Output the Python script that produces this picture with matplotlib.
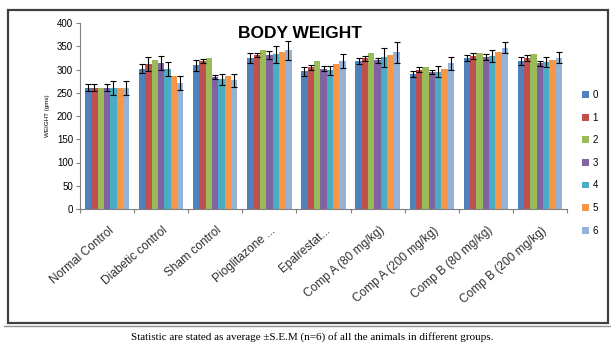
import numpy as np
import matplotlib
matplotlib.use("Agg")
import matplotlib.pyplot as plt
from matplotlib.patches import Rectangle, Patch

# ── data ────────────────────────────────────────────────────────────────────
groups = ["Normal Control", "Diabetic control", "Sham control", "Pioglitazone ...",
          "Epalrestat...", "Comp A (80 mg/kg)", "Comp A (200 mg/kg)",
          "Comp B (80 mg/kg)", "Comp B (200 mg/kg)"]
series_names = ["0", "1", "2", "3", "4", "5", "6"]

# rows = series (weeks 0..6), columns = groups
means = np.array([
    [261, 302, 309, 325, 296, 318, 290, 325, 318],
    [261, 311, 318, 331, 305, 324, 300, 329, 325],
    [261, 320, 325, 341, 318, 336, 306, 336, 333],
    [261, 314, 284, 331, 302, 320, 295, 327, 313],
    [261, 302, 279, 333, 298, 326, 295, 329, 316],
    [261, 285, 285, 338, 311, 331, 302, 338, 320],
    [261, 271, 277, 341, 318, 337, 313, 347, 325],
])
sems = np.array([
    [8, 10, 12, 10, 10, 6, 6, 6, 8],
    [8, 15, 5, 5, 5, 5, 5, 6, 6],
    [0, 0, 0, 0, 0, 0, 0, 0, 0],
    [8, 15, 5, 8, 5, 5, 5, 6, 6],
    [15, 15, 12, 18, 10, 20, 12, 12, 10],
    [0, 0, 0, 0, 0, 0, 0, 0, 0],
    [15, 15, 14, 20, 15, 22, 14, 12, 12],
])

colors = ["#4F81BD", "#C0504D", "#9BBB59", "#8064A2", "#4BACC6", "#F79646", "#95B3D7"]
sans = "Liberation Sans"

fig = plt.figure(figsize=(6.11, 3.47), dpi=100)
fig.patch.set_facecolor("white")

# outer chart frame + caption
fig.patches.append(Rectangle((8 / 611, 1 - 323 / 347), 600 / 611, 313 / 347,
                             transform=fig.transFigure, fill=False,
                             edgecolor="#404040", lw=1.6))
fig.lines.append(plt.Line2D([4 / 611, 611 / 611], [1 - 326 / 347] * 2,
                            transform=fig.transFigure, color="#909090", lw=1))

ax = fig.add_axes([80 / 611, 1 - 209 / 347, 487 / 611, 186 / 347])

n_ser = len(series_names)
x = np.arange(len(groups))
bw = 0.82 / n_ser
for i, name in enumerate(series_names):
    pos = x - 0.41 + bw * (i + 0.5)
    ax.bar(pos, means[i], bw, color=colors[i], label=name)
    m = sems[i] > 0
    ax.errorbar(pos[m], means[i][m], yerr=sems[i][m], fmt="none",
                ecolor="black", elinewidth=0.8, capsize=2, capthick=0.8)

ax.set_xlim(-0.5, len(groups) - 0.5)
ax.set_ylim(0, 400)
ax.set_yticks(np.arange(0, 401, 50))
ax.tick_params(axis="y", labelsize=7, length=3, color="#808080", pad=2)
for lab in ax.get_yticklabels():
    lab.set_family(sans)
ax.set_xticks(np.arange(-0.5, len(groups)), minor=False)
ax.set_xticklabels([])
ax.tick_params(axis="x", length=3, color="#808080")
ax.set_xticks(x + 0.02, minor=True)
ax.set_xticklabels(groups, minor=True, rotation=41, ha="right",
                   rotation_mode="anchor", fontsize=8.6, family=sans, color="#303030")
ax.tick_params(axis="x", which="minor", length=0, pad=11)
for s in ["top", "right"]:
    ax.spines[s].set_visible(False)
ax.spines["left"].set_color("#808080")
ax.spines["bottom"].set_color("#808080")
ax.set_ylabel("WEIGHT (gms)", fontsize=4.5, labelpad=5, family=sans)

fig.text(300 / 611, 1 - 33 / 347, "BODY WEIGHT", ha="center", va="center",
         fontsize=12.5, fontweight="bold", family=sans)

handles = [Patch(facecolor=c, label=n) for c, n in zip(colors, series_names)]
leg = fig.legend(handles=handles, loc="upper left", bbox_to_anchor=(578 / 611, 1 - 86 / 347),
                 frameon=False, fontsize=7, handlelength=0.7, handleheight=0.7,
                 labelspacing=1.3, handletextpad=0.4, borderaxespad=0)
for t in leg.get_texts():
    t.set_family(sans)

fig.text(312 / 611, 1 - 337 / 347,
         "Statistic are stated as average \u00b1S.E.M (n=6) of all the animals in different groups.",
         ha="center", va="center", fontsize=8, family="Liberation Serif")

fig.savefig("out.png", dpi=100)
